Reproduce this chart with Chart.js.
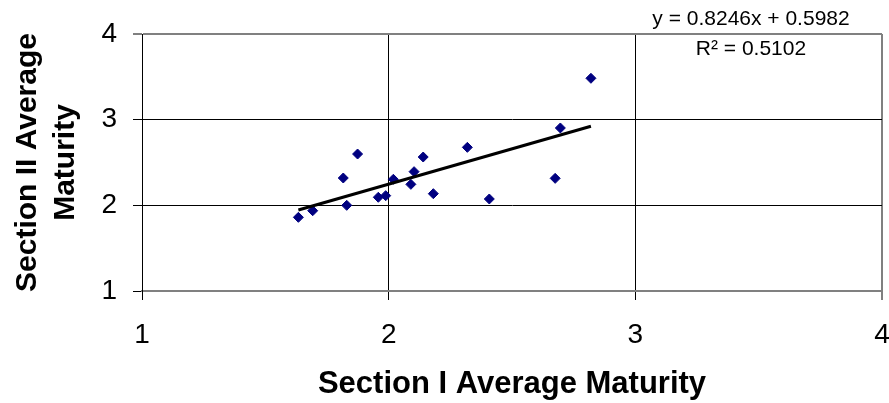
<!DOCTYPE html>
<html>
<head>
<meta charset="utf-8">
<script src="https://cdn.jsdelivr.net/npm/chart.js@4/dist/chart.umd.min.js"></script>
<style>
  html, body { margin: 0; padding: 0; background: #fff; }
  #wrap { width: 889px; height: 403px; }
</style>
</head>
<body>
<div id="wrap"><canvas id="chart" width="889" height="403"></canvas></div>
<script>
// section I average maturity (x) vs section II average maturity (y)
var sectionOne = [1.634, 1.692, 1.816, 1.830, 1.874, 1.958, 1.988, 2.019, 2.090,
                  2.103, 2.140, 2.181, 2.319, 2.408, 2.675, 2.696, 2.820];
var sectionTwo = [1.860, 1.937, 2.319, 2.000, 2.599, 2.094, 2.113, 2.304, 2.245,
                  2.393, 2.564, 2.136, 2.677, 2.074, 2.315, 2.903, 3.483];
var axisTicks = [1, 2, 3, 4];

// linear trendline as reported on the chart
var slope = 0.8246,
    intercept = 0.5982,
    rSquared = 0.5102;

var FONT = '"Liberation Sans", Arial, sans-serif';

var points = sectionOne.map(function (x, i) {
  return { x: x, y: sectionTwo[i] };
});

var xMin = Math.min.apply(null, sectionOne),
    xMax = Math.max.apply(null, sectionOne);
var trend = [
  { x: xMin, y: slope * xMin + intercept },
  { x: xMax, y: slope * xMax + intercept }
];

// trendline label in the upper right corner
var trendLabel = {
  id: 'trendLabel',
  afterDraw: function (chart) {
    var ctx = chart.ctx;
    ctx.save();
    ctx.fillStyle = '#000';
    ctx.font = '21px ' + FONT;
    ctx.textAlign = 'center';
    ctx.textBaseline = 'middle';
    ctx.fillText('y = ' + slope + 'x + ' + intercept, 751, 19);
    ctx.fillText('R\u00B2 = ' + rSquared, 751, 49);
    ctx.restore();
  }
};

var gridColor = function (c) {
  var v = c.tick && c.tick.value;
  return (v === 4 || v === 1) ? '#808080' : '#000';
};
var gridWidth = function (c) {
  var v = c.tick && c.tick.value;
  return (v === 4) ? 2 : 1;
};

new Chart(document.getElementById('chart').getContext('2d'), {
  type: 'scatter',
  data: {
    datasets: [{
      label: 'Maturity',
      data: points,
      pointStyle: 'rectRot',
      pointRadius: 5,
      pointBackgroundColor: '#000080',
      pointBorderColor: '#000080',
      pointBorderWidth: 1,
      showLine: false,
      order: 2
    }, {
      label: 'Linear trend',
      data: trend,
      showLine: true,
      borderColor: '#000',
      borderWidth: 3,
      pointRadius: 0,
      order: 1
    }]
  },
  options: {
    responsive: false,
    animation: false,
    layout: { padding: { left: 0, right: 7, top: 34, bottom: 0 } },
    plugins: {
      legend: { display: false },
      tooltip: { enabled: false }
    },
    scales: {
      x: {
        type: 'linear',
        min: 1,
        max: 4,
        afterBuildTicks: function (s) {
          s.ticks = axisTicks.map(function (v) { return { value: v }; });
        },
        afterFit: function (s) {
          s.height = 112;
          s.paddingLeft = 0;
          s.paddingRight = 0;
        },
        grid: {
          color: gridColor,
          lineWidth: gridWidth,
          tickColor: '#000',
          tickWidth: 1,
          tickLength: 9
        },
        border: { display: true, color: '#808080', width: 2 },
        ticks: {
          color: '#000',
          padding: 18,
          font: { family: FONT, size: 28 }
        },
        title: {
          display: true,
          text: 'Section I Average Maturity',
          color: '#000',
          padding: { top: 0, bottom: 0 },
          font: { family: FONT, size: 31, weight: 'bold', lineHeight: 1.2 }
        }
      },
      y: {
        type: 'linear',
        min: 1,
        max: 4,
        afterBuildTicks: function (s) {
          s.ticks = axisTicks.map(function (v) { return { value: v }; });
        },
        afterFit: function (s) {
          s.width = 142;
          s.paddingTop = 0;
          s.paddingBottom = 0;
        },
        grid: {
          color: gridColor,
          lineWidth: gridWidth,
          tickColor: '#000',
          tickWidth: 1,
          tickLength: 9
        },
        border: { display: true, color: '#000', width: 1 },
        ticks: {
          color: '#000',
          padding: 16,
          font: { family: FONT, size: 28 }
        },
        title: {
          display: true,
          text: ['Section II Average', 'Maturity'],
          color: '#000',
          padding: { top: 9, bottom: 0 },
          font: { family: FONT, size: 30, weight: 'bold', lineHeight: 1.27 }
        }
      }
    }
  },
  plugins: [trendLabel]
});
</script>
</body>
</html>
